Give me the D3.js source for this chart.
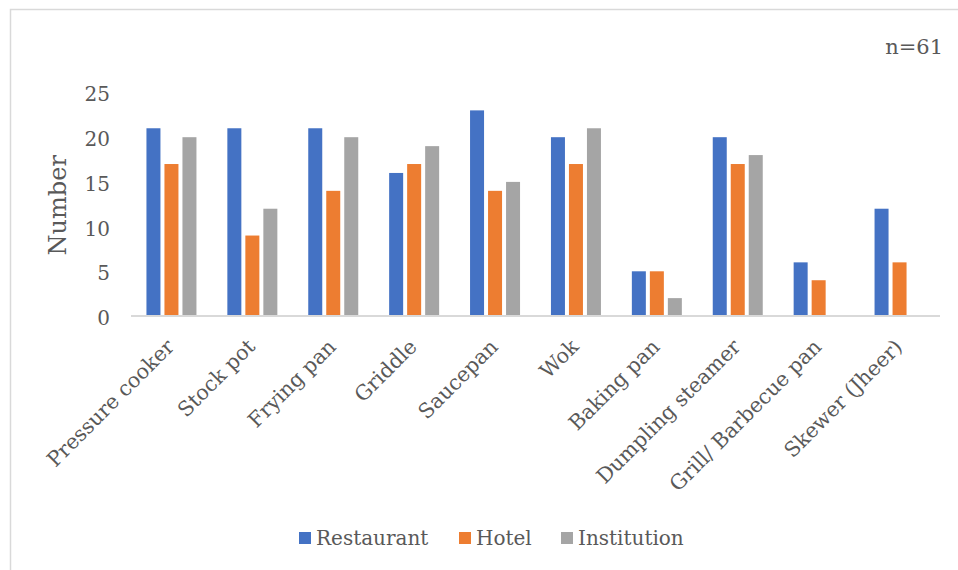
<!DOCTYPE html>
<html>
<head>
<meta charset="utf-8">
<script src="https://cdn.jsdelivr.net/npm/d3@7"></script>
<style>
  html, body { margin: 0; padding: 0; background: #fff; }
  svg { display: block; }
  text { font-family: "DejaVu Serif", "Liberation Serif", serif; fill: #595959; }
</style>
</head>
<body>
<svg id="chart" width="958" height="570"></svg>
<script>
// Cookware categories and counts per establishment type
const categories = ["Pressure cooker", "Stock pot", "Frying pan", "Griddle", "Saucepan",
                    "Wok", "Baking pan", "Dumpling steamer", "Grill/ Barbecue pan", "Skewer (Jheer)"];
const seriesNames = ["Restaurant", "Hotel", "Institution"];
const restaurant  = [21, 21, 21, 16, 23, 20, 5, 20, 6, 12];
const hotel       = [17, 9, 14, 17, 14, 17, 5, 17, 4, 6];
const institution = [20, 12, 20, 19, 15, 21, 2, 18, 0, 0];
const yTicks = [0, 5, 10, 15, 20, 25];
const colors = ["#4472C4", "#ED7D31", "#A5A5A5"];
const noteText = "n=61";
const yTitle = "Number";

const seriesValues = [restaurant, hotel, institution];
const rows = categories.map((c, i) => ({
  category: c,
  values: seriesNames.map((s, j) => ({ series: s, value: seriesValues[j][i] }))
}));

const svg = d3.select("#chart");

// Chart frame
svg.append("rect")
  .attr("x", 10.5).attr("y", 9.5)
  .attr("width", 970).attr("height", 580)
  .attr("fill", "none").attr("stroke", "#d9d9d9").attr("stroke-width", 1.5);

const plot = { left: 131, right: 940, top: 92.5, bottom: 316 };

const x = d3.scaleBand().domain(categories).range([plot.left, plot.right]).padding(0);
const y = d3.scaleLinear().domain([0, 25]).range([plot.bottom, plot.top]);
const groupWidth = 50;
const xs = d3.scaleBand().domain(seriesNames).range([0, groupWidth]).paddingInner(4 / 18).paddingOuter(0);
const color = d3.scaleOrdinal().domain(seriesNames).range(colors);

// Y axis labels (no line, no ticks)
const yAxis = d3.axisLeft(y).tickValues(yTicks).tickSize(0).tickPadding(0);
const gy = svg.append("g").attr("transform", "translate(110,2)").call(yAxis);
gy.select(".domain").remove();
gy.selectAll("text")
  .attr("font-size", 20)
  .attr("font-family", "DejaVu Serif, serif")
  .attr("fill", "#595959");

// Bars
const groups = svg.append("g").selectAll("g")
  .data(rows).join("g")
  .attr("transform", d => `translate(${x(d.category) + x.bandwidth() / 2 - groupWidth / 2},0)`);

groups.selectAll("rect")
  .data(d => d.values.filter(v => v.value > 0))
  .join("rect")
  .attr("x", d => xs(d.series))
  .attr("y", d => y(d.value))
  .attr("width", xs.bandwidth())
  .attr("height", d => y(0) - y(d.value))
  .attr("fill", d => color(d.series));

// Category axis line and rotated labels
const xAxis = d3.axisBottom(x).tickSize(0).tickPadding(0);
const gx = svg.append("g").attr("transform", `translate(0,${plot.bottom})`).call(xAxis);
gx.select(".domain").attr("stroke", "#d9d9d9").attr("stroke-width", 2)
  .attr("d", `M${plot.left},0H${plot.right}`);
gx.selectAll(".tick text")
  .attr("font-size", 20.6)
  .attr("font-family", "DejaVu Serif, serif")
  .attr("fill", "#595959")
  .attr("text-anchor", "end")
  .attr("dy", null)
  .attr("y", 0)
  .attr("transform", "translate(4,32) rotate(-45)");

// Y axis title
svg.append("text")
  .attr("transform", `translate(66,${(plot.top + plot.bottom) / 2 + 1}) rotate(-90)`)
  .attr("text-anchor", "middle")
  .attr("font-size", 24)
  .text(yTitle);

// Sample size note
svg.append("text")
  .attr("x", 943).attr("y", 54)
  .attr("text-anchor", "end")
  .attr("font-size", 21)
  .text(noteText);

// Legend
const legendItems = [
  { name: seriesNames[0], x: 299 },
  { name: seriesNames[1], x: 459 },
  { name: seriesNames[2], x: 561 }
];
const legend = svg.append("g");
const li = legend.selectAll("g").data(legendItems).join("g")
  .attr("transform", d => `translate(${d.x},0)`);
li.append("rect")
  .attr("x", 0).attr("y", 532).attr("width", 12).attr("height", 12)
  .attr("fill", d => color(d.name));
li.append("text")
  .attr("x", 17).attr("y", 545)
  .attr("font-size", 20)
  .text(d => d.name);
</script>
</body>
</html>
